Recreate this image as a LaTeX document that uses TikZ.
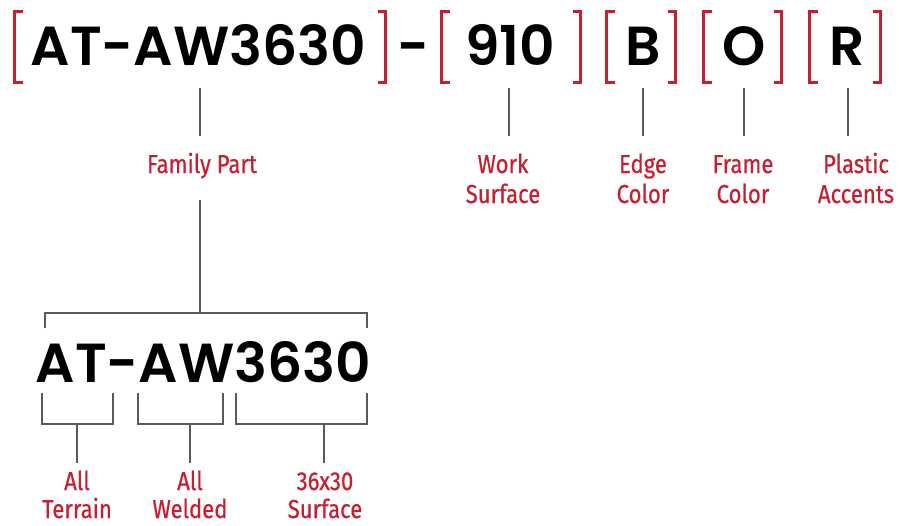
\documentclass[tikz,border=0pt]{standalone}
\usepackage{fontspec}
\newfontfamily\codefont{Poppins SemiBold}
\newfontfamily\labfont[FakeStretch=0.85,FakeBold=0.6]{Fira Sans}
\definecolor{brandred}{RGB}{197,32,50}
\definecolor{linegray}{RGB}{90,90,90}
\tikzset{
  code/.style={font=\codefont\fontsize{55}{60}\selectfont, inner sep=0pt, anchor=base, text=black},
  lab/.style={font=\labfont\fontsize{26}{30}\selectfont, inner sep=0pt, anchor=base, text=brandred},
  brk/.style={draw=brandred, line width=3pt, line cap=butt},
  conn/.style={draw=linegray, line width=1.3pt}
}
\begin{document}
\begin{tikzpicture}[x=1pt,y=-1pt]
\useasboundingbox (0,0) rectangle (899,525);
% top row codes
\node[code] (fam) at (198.5,65) {AT-AW3630};
\node[code] (dash) at (414,65) {-};
\node[code] (ws) at (510,65) {910};
\node[code] (ec) at (643,65) {B};
\node[code] (fc) at (744,65) {O};
\node[code] (pa) at (847.5,65) {R};
% red brackets
\foreach \l/\r in {14.5/385.5, 441.5/580.5, 606.5/675.5, 703.5/781.5, 809.5/880.5}{
  \draw[brk] (\l+8,11) -- (\l,11) -- (\l,82) -- (\l+8,82);
  \draw[brk] (\r-8,11) -- (\r,11) -- (\r,82) -- (\r-8,82);
}
% tick coordinates
\coordinate (t1a) at (200,88); \coordinate (t1b) at (200,136);
\coordinate (t2a) at (509,88); \coordinate (t2b) at (509,136);
\coordinate (t3a) at (643,88); \coordinate (t3b) at (643,136);
\coordinate (t4a) at (744,88); \coordinate (t4b) at (744,136);
\coordinate (t5a) at (848,88); \coordinate (t5b) at (848,136);
\draw[conn] (t1a) -- (t1b);
\draw[conn] (t2a) -- (t2b);
\draw[conn] (t3a) -- (t3b);
\draw[conn] (t4a) -- (t4b);
\draw[conn] (t5a) -- (t5b);
% top labels
\node[lab] (famlab) at (202,173) {Family Part};
\node[lab] (ws1) at (503,173) {Work};
\node[lab] (ws2) at (503,203) {Surface};
\node[lab] (ec1) at (643,173) {Edge};
\node[lab] (ec2) at (643,203) {Color};
\node[lab] (fc1) at (743,173) {Frame};
\node[lab] (fc2) at (743,203) {Color};
\node[lab] (pa1) at (856,173) {Plastic};
\node[lab] (pa2) at (856,203) {Accents};
% family part breakdown
\coordinate (fa) at (200,200);
\coordinate (fb) at (200,313);
\draw[conn] (fa) -- (fb);
\draw[conn] (45,328) -- (45,313) -- (367,313) -- (367,328);
\node[code] (big) at (203.5,382) {AT-AW3630};
% sub brackets
\draw[conn] (42,393) -- (42,424) -- (113,424) -- (113,393);
\draw[conn] (138,393) -- (138,424) -- (223,424) -- (223,393);
\draw[conn] (236,393) -- (236,424) -- (367,424) -- (367,393);
\coordinate (s1a) at (77,424);  \coordinate (s1b) at (77,463);
\coordinate (s2a) at (190,424); \coordinate (s2b) at (190,463);
\coordinate (s3a) at (324,424); \coordinate (s3b) at (324,463);
\draw[conn] (s1a) -- (s1b);
\draw[conn] (s2a) -- (s2b);
\draw[conn] (s3a) -- (s3b);
% bottom labels
\node[lab] (at1) at (77,490) {All};
\node[lab] (at2) at (77,518) {Terrain};
\node[lab] (aw1) at (190,490) {All};
\node[lab] (aw2) at (190,518) {Welded};
\node[lab] (sz1) at (325,490) {36x30};
\node[lab] (sz2) at (325,518) {Surface};
\end{tikzpicture}
\end{document}
